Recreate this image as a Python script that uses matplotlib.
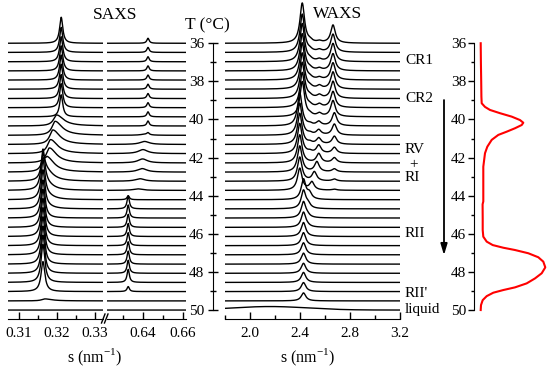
import numpy as np
import matplotlib
matplotlib.use('Agg')
import matplotlib.pyplot as plt
from matplotlib.lines import Line2D
from matplotlib.ticker import FixedLocator

plt.rcParams['font.family'] = ['Liberation Serif', 'DejaVu Serif']
plt.rcParams['mathtext.fontset'] = 'custom'
plt.rcParams['mathtext.rm'] = 'Liberation Serif'
plt.rcParams['font.size'] = 11

# temperatures of the stacked scans (deg C)
temps = [36.00, 36.48, 36.97, 37.45, 37.93, 38.41, 38.90, 39.38, 39.86, 40.34,
         40.83, 41.31, 41.79, 42.28, 42.76, 43.24, 43.72, 44.21, 44.69, 45.17,
         45.66, 46.14, 46.62, 47.10, 47.59, 48.07, 48.55, 49.03, 49.52, 50.00]

# SAXS first order: CR peak, transition peak, RII peak (heights a.u.)
saxs_cr_pos = 0.3211
saxs_cr_h = [26, 25, 25, 25, 25, 25, 24, 24, 22, 0, 0, 0, 0, 0, 0,
             0, 0, 0, 0, 0, 0, 0, 0, 0, 0, 0, 0, 0, 0, 0]
saxs_tr_pos = [0.32, 0.32, 0.32, 0.32, 0.32, 0.32, 0.32, 0.32, 0.32, 0.3199,
               0.3195, 0.3189, 0.3183, 0.3180, 0.3175, 0.3172, 0.3172, 0.3172, 0.3172, 0.3172,
               0.3172, 0.3172, 0.3172, 0.3172, 0.3172, 0.3172, 0.3172, 0.3172, 0.3168, 0.3168]
saxs_tr_h = [0, 0, 0, 0, 0, 0, 0, 0, 0, 11, 14, 14.5, 14, 15, 14,
             10, 6, 4, 2, 0, 0, 0, 0, 0, 0, 0, 0, 0, 2, 0]
saxs_rii_pos = 0.3163
saxs_rii_h = [0, 0, 0, 0, 0, 0, 0, 0, 0, 0, 0, 0, 0, 0, 8,
              22, 38, 38, 38, 38, 38, 38, 38, 38, 38, 38, 38, 30, 0, 0]

# SAXS second order
saxs2_cr_pos = 0.6425
saxs2_cr_h = [5, 5, 5, 5, 5, 5, 5, 5, 5, 5, 2, 0, 0, 0, 0,
              0, 0, 0, 0, 0, 0, 0, 0, 0, 0, 0, 0, 0, 0, 0]
saxs2_tr_pos = [0.64, 0.64, 0.64, 0.64, 0.64, 0.64, 0.64, 0.64, 0.64, 0.64,
                0.6410, 0.6408, 0.6400, 0.6398, 0.6396, 0.6385, 0.6375, 0.6375, 0.6375, 0.6375,
                0.6375, 0.6375, 0.6375, 0.6375, 0.6375, 0.6375, 0.6375, 0.6375, 0.6375, 0.6375]
saxs2_tr_h = [0, 0, 0, 0, 0, 0, 0, 0, 0, 0, 1, 3, 4, 4, 3.5,
              2.5, 1.5, 0, 0, 0, 0, 0, 0, 0, 0, 0, 0, 0, 0, 0]
saxs2_rii_pos = 0.6326
saxs2_rii_h = [0, 0, 0, 0, 0, 0, 0, 0, 0, 0, 0, 0, 0, 0, 0,
               0, 0, 4, 13, 13, 13, 13, 13, 13, 13, 13, 13, 5, 0, 0]

# WAXS
waxs_main_pos = [2.418, 2.418, 2.418, 2.418, 2.418, 2.418, 2.418, 2.418, 2.418, 2.398,
                 2.398, 2.398, 2.398, 2.398, 2.398, 2.398, 2.398, 2.428, 2.428, 2.428,
                 2.428, 2.428, 2.428, 2.428, 2.428, 2.428, 2.428, 2.428, 2.428, 2.428]
waxs_main_h = [40, 38, 38, 37, 37, 36, 36, 35, 35, 33, 32, 31, 30, 28, 26,
               24, 22, 20, 18, 16, 15, 14, 13, 12, 11, 10, 10, 9, 8, 0]
waxs_second_pos = [2.664, 2.664, 2.664, 2.664, 2.664, 2.664, 2.664, 2.664, 2.664, 2.675,
                   2.675, 2.675, 2.675, 2.675, 2.675, 2.675, 2.675, 2.675, 2.675, 2.675,
                   2.675, 2.675, 2.675, 2.675, 2.675, 2.675, 2.675, 2.675, 2.675, 2.675]
waxs_second_h = [18, 18, 18, 17, 17, 17, 17, 16, 16, 13, 11, 8, 6, 5, 3,
                 2, 1, 0, 0, 0, 0, 0, 0, 0, 0, 0, 0, 0, 0, 0]
waxs_mid_pos = [2.555, 2.555, 2.555, 2.555, 2.555, 2.555, 2.555, 2.555, 2.555, 2.55,
                2.55, 2.55, 2.55, 2.55, 2.535, 2.515, 2.495, 2.475, 2.465, 2.46,
                2.46, 2.46, 2.46, 2.46, 2.46, 2.46, 2.46, 2.46, 2.46, 2.46]
waxs_mid_h = [1.5, 2, 2, 2, 2, 3, 3, 3, 3, 4, 5, 6, 8, 9, 10,
              9, 8, 6, 4, 2, 1, 0, 0, 0, 0, 0, 0, 0, 0, 0]
waxs_small_pos = 2.48
waxs_small_h = [1.5, 1.5, 1.5, 1.5, 1.5, 1.5, 1.5, 1.5, 1.5, 1.5, 1.5, 1.5, 1.5, 0, 0,
                0, 0, 0, 0, 0, 0, 0, 0, 0, 0, 0, 0, 0, 0, 0]
liquid_pos = 2.16
liquid_h = 3.5

# DSC trace (T in deg C, heat flow a.u.)
dsc_t = [36.00, 37.00, 38.00, 38.80, 39.15, 39.34, 39.50, 39.67, 39.85, 40.03,
         40.17, 40.29, 40.46, 40.64, 40.81, 41.07, 41.43, 41.77, 42.48, 43.50,
         44.30, 44.45, 45.20, 45.80, 46.15, 46.41, 46.59, 46.73, 46.85, 47.02,
         47.23, 47.46, 47.76, 48.07, 48.34, 48.60, 48.81, 48.95, 49.09, 49.27,
         49.48, 49.74, 50.00]
dsc_q = [6.4, 6.6, 6.9, 7.1, 7.4, 10.7, 15.7, 25.7, 37.4, 45.7,
         49.0, 47.4, 40.7, 32.4, 24.0, 17.4, 13.0, 10.7, 9.0, 9.0,
         9.0, 8.3, 8.4, 8.4, 9.0, 12.4, 18.4, 29.0, 40.7, 54.0,
         64.0, 69.0, 71.0, 67.4, 60.7, 52.4, 40.7, 29.0, 19.0, 12.4,
         8.4, 6.7, 6.4]

t_major = [36, 38, 40, 42, 44, 46, 48, 50]
t_minor = [37, 39, 41, 43, 45, 47, 49]

phase_labels = ['CR1', 'CR2', 'RV', '+', 'RI', 'RII', "RII'", 'liquid']
phase_label_t = [36.88, 38.92, 41.60, 42.39, 43.07, 45.96, 49.11, 49.95]


def lorentz(x, pos, height, hw):
    return height / (1 + ((x - pos) / hw) ** 2)


def split_lorentz(x, pos, height, hw_left, hw_right):
    hw = np.where(x < pos, hw_left, hw_right)
    return height / (1 + ((x - pos) / hw) ** 2)


W, H = 550, 370
fig = plt.figure(figsize=(5.5, 3.7), dpi=100)
bot = (H - 319) / H
hgt = 319 / H
ylim = (50.47, 33.73)
k = 1 / 19.05  # intensity units -> deg C on the stacking axis

ax_s1 = fig.add_axes([8 / W, bot, 95 / W, hgt])
ax_s2 = fig.add_axes([107 / W, bot, 78.5 / W, hgt])
ax_w = fig.add_axes([225 / W, bot, 175 / W, hgt])
ax_d = fig.add_axes([474.3 / W, bot, 75.7 / W, hgt])

s1 = np.linspace(0.3071, 0.3321, 2500)
s2 = np.linspace(0.622, 0.66125, 2500)
sw = np.linspace(1.8, 3.2, 2000)

for i, t in enumerate(temps):
    y1 = (lorentz(s1, saxs_cr_pos, saxs_cr_h[i], 0.0005)
          + split_lorentz(s1, saxs_tr_pos[i], saxs_tr_h[i], 0.001, 0.0022)
          + lorentz(s1, saxs_rii_pos, saxs_rii_h[i], 0.0006))
    ax_s1.plot(s1, t - y1 * k, color='black', lw=1.0)

    y2 = (lorentz(s2, saxs2_cr_pos, saxs2_cr_h[i], 0.0007)
          + lorentz(s2, saxs2_tr_pos[i], saxs2_tr_h[i], 0.0028)
          + lorentz(s2, saxs2_rii_pos, saxs2_rii_h[i], 0.0007))
    ax_s2.plot(s2, t - y2 * k, color='black', lw=1.0)

    yw = (lorentz(sw, waxs_main_pos[i], waxs_main_h[i], 0.022)
          + lorentz(sw, waxs_second_pos[i], waxs_second_h[i], 0.022)
          + lorentz(sw, waxs_mid_pos[i], waxs_mid_h[i], 0.022)
          + lorentz(sw, waxs_small_pos, waxs_small_h[i], 0.02))
    if i == len(temps) - 1:
        yw = yw + liquid_h * np.exp(-0.5 * ((sw - liquid_pos) / 0.3) ** 2)
    ax_w.plot(sw, t - yw * k, color='black', lw=1.0)

for ax in (ax_s1, ax_s2, ax_w, ax_d):
    ax.set_ylim(ylim)
    ax.patch.set_visible(False)
    for sp in ('top', 'right'):
        ax.spines[sp].set_visible(False)

for ax in (ax_s1, ax_s2):
    ax.spines['left'].set_visible(False)
    ax.set_yticks([])
    ax.tick_params(axis='x', which='major', direction='in', length=5, width=1, pad=6, labelsize=11)
    ax.tick_params(axis='x', which='minor', direction='in', length=3, width=1)

ax_s1.set_xlim(0.3071, 0.3321)
ax_s1.xaxis.set_major_locator(FixedLocator([0.31, 0.32, 0.33]))
ax_s1.xaxis.set_minor_locator(FixedLocator([0.315, 0.325]))
ax_s1.set_xticklabels(['0.31', '0.32', '0.33'])
ax_s2.set_xlim(0.622, 0.66125)
ax_s2.xaxis.set_major_locator(FixedLocator([0.64, 0.66]))
ax_s2.xaxis.set_minor_locator(FixedLocator([0.63, 0.65]))
ax_s2.set_xticklabels(['0.64', '0.66'])

# WAXS panel, its left spine is the temperature scale
ax_w.set_xlim(1.8, 3.2)
ax_w.xaxis.set_major_locator(FixedLocator([2.0, 2.4, 2.8, 3.2]))
ax_w.xaxis.set_minor_locator(FixedLocator([1.8, 2.2, 2.6, 3.0]))
ax_w.set_xticklabels(['2.0', '2.4', '2.8', '3.2'])
ax_w.tick_params(axis='x', which='major', direction='in', length=5, width=1, pad=6, labelsize=11)
ax_w.tick_params(axis='x', which='minor', direction='in', length=3, width=1)
ax_w.spines['left'].set_position(('outward', 8.6))
ax_w.spines['left'].set_bounds(36, 50)
ax_w.yaxis.set_major_locator(FixedLocator(t_major))
ax_w.yaxis.set_minor_locator(FixedLocator(t_minor))
ax_w.tick_params(axis='y', which='major', direction='inout', length=7, width=1, pad=3, labelsize=11)
ax_w.tick_params(axis='y', which='minor', direction='inout', length=4, width=1)

for lab, t in zip(phase_labels, phase_label_t):
    if lab == '+':
        ax_w.text(3.305, t, lab, ha='center', va='center', fontsize=11, clip_on=False)
    else:
        ax_w.text(3.24, t, lab, ha='left', va='center', fontsize=11, clip_on=False)

ax_w.annotate('', xy=(3.552, 47.12), xytext=(3.552, 38.98), annotation_clip=False,
              arrowprops=dict(arrowstyle='-|>,head_length=0.6,head_width=0.18',
                              color='black', lw=1.3, shrinkA=0, shrinkB=0))

# DSC panel
ax_d.plot(dsc_q, dsc_t, color='red', lw=1.5)
ax_d.set_xlim(0, 75.7)
ax_d.set_xticks([])
ax_d.spines['bottom'].set_visible(False)
ax_d.spines['left'].set_bounds(36, 50)
ax_d.yaxis.set_major_locator(FixedLocator(t_major))
ax_d.yaxis.set_minor_locator(FixedLocator(t_minor))
ax_d.tick_params(axis='y', which='major', direction='out', length=4, width=1, pad=2, labelsize=11)
ax_d.tick_params(axis='y', which='minor', direction='out', length=2.5, width=1)

# titles and axis labels
fig.text(115 / W, 1 - 15 / H, 'SAXS', ha='center', va='center', fontsize=12.5)
fig.text(338 / W, 1 - 14 / H, 'WAXS', ha='center', va='center', fontsize=12.5)
fig.text(207 / W, 1 - 25 / H, 'T (°C)', ha='center', va='center', fontsize=12.5)
fig.text(95 / W, 1 - 357 / H, r's (nm$^{-1}$)', ha='center', va='center', fontsize=11.5)
fig.text(308 / W, 1 - 357 / H, r's (nm$^{-1}$)', ha='center', va='center', fontsize=11.5)

# axis break marks
for x0 in (101.5, 104.5):
    fig.add_artist(Line2D([x0 / W, (x0 + 3.5) / W], [1 - 323 / H, 1 - 314 / H], color='black', lw=1))

fig.savefig('out.png', dpi=100)
